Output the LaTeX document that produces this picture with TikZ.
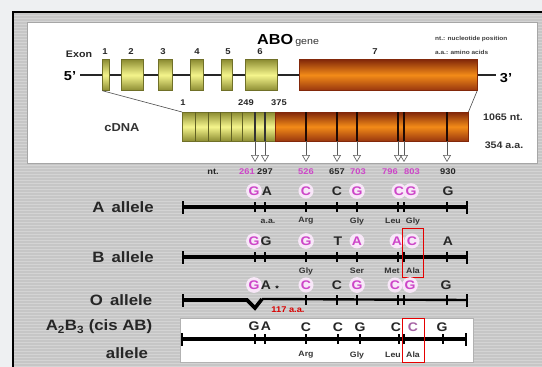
\documentclass[tikz,border=0pt]{standalone}
\usepackage{fontspec}
\setmainfont{Liberation Sans}[FakeStretch=1.12]
\usetikzlibrary{arrows.meta}
\definecolor{mag}{RGB}{205,70,200}
\definecolor{bgout}{RGB}{238,240,242}
\definecolor{graybg}{RGB}{198,198,198}
\definecolor{stripec}{RGB}{212,212,212}
\definecolor{olive}{RGB}{140,140,50}
\definecolor{yel}{RGB}{245,245,140}
\definecolor{brn}{RGB}{130,40,10}
\definecolor{org}{RGB}{240,110,30}
\tikzset{
 lbl/.style={font=\fontsize{15}{17}\selectfont\bfseries, text=black!85, inner sep=0},
 nuc/.style={font=\fontsize{12.5}{13}\selectfont\bfseries, inner sep=0, text=black!85},
 mg/.style={text=mag, circle, fill=mag!13, inner sep=0.6pt},
 aa/.style={font=\fontsize{7.8}{9}\selectfont\bfseries, inner sep=0, text=black!80},
 num/.style={font=\fontsize{8.3}{9}\selectfont\bfseries, inner sep=0, text=black!85},
 mgn/.style={text=mag},
 tick/.style={fill=black, inner sep=0, minimum width=1.8pt, minimum height=10pt},
 endtick/.style={fill=black, inner sep=0, minimum width=2.2pt, minimum height=13pt},
 allele/.style={line width=3.6pt},
 redbox/.style={draw=red!90!black, line width=1pt},
 snp/.style={draw=gray!70!black, line width=0.6pt, -{Triangle[open,width=8pt,length=7pt]}},
 exonbox/.style={draw=olive!80!black, line width=0.4pt, inner sep=0, minimum height=31pt, top color=olive, bottom color=olive, middle color=yel},
 exon7/.style={draw=brn, line width=0.4pt, inner sep=0, minimum height=31pt, top color=brn, bottom color=brn!80!org, middle color=org!80!yellow},
 enum/.style={font=\fontsize{8.5}{9}\selectfont\bfseries, inner sep=0, text=black!85},
}
\begin{document}
\begin{tikzpicture}[x=1pt,y=-1pt]
\useasboundingbox (0,0) rectangle (542,367);
\fill[bgout] (0,0) rectangle (542,367);
\fill[graybg] (13,12) rectangle (542,367);
\foreach \y in {15,18,...,366} \draw[stripec, line width=0.5pt] (14,\y) -- (542,\y);
\draw[line width=2pt] (13,367) -- (13,12) -- (542,12);
% white panel
\draw[fill=white, draw=gray!70, line width=1pt] (27,22) rectangle (537,163);

% gene
\node[font=\fontsize{14.5}{15}\selectfont\bfseries, anchor=base west, inner sep=0] (abo) at (257,44) {ABO};
\node[font=\fontsize{9.5}{10}\selectfont, anchor=base west, inner sep=0, text=black!80] (gene) at (abo.base east) {\,gene};
\node[font=\fontsize{5.8}{7}\selectfont\bfseries, anchor=west, inner sep=0, text=black!75] (n1) at (435,39) {nt.: nucleotide position};
\node[font=\fontsize{5.8}{7}\selectfont\bfseries, anchor=west, inner sep=0, text=black!75] (n2) at (435,52) {a.a.: amino acids};

\node[font=\fontsize{9.5}{10}\selectfont\bfseries, inner sep=0, text=black!85] (exon) at (79,54) {Exon};
\node[font=\fontsize{13}{14}\selectfont\bfseries, inner sep=0] (p5) at (70,76) {5'};
\node[font=\fontsize{13}{14}\selectfont\bfseries, inner sep=0] (p3) at (506,78) {3'};
\coordinate (g5) at (80,75);
\coordinate (g3) at (496,75);
\draw[line width=1.6pt, black!85] (g5) -- (g3);

\node[exonbox, minimum width=7pt] (e1) at (106,75) {};
\node[exonbox, minimum width=22pt] (e2) at (132,75) {};
\node[exonbox, minimum width=14pt] (e3) at (165,75) {};
\node[exonbox, minimum width=13pt] (e4) at (197,75) {};
\node[exonbox, minimum width=11pt] (e5) at (227,75) {};
\node[exonbox, minimum width=32pt] (e6) at (261,75) {};
\node[exon7, minimum width=178pt] (e7) at (388,75) {};
\foreach \n/\x in {1/105,2/131,3/163,4/197,5/228,6/260,7/375}
  \node[enum] (en\n) at (\x,52) {\n};

% cDNA
\node[exonbox, minimum width=93pt, minimum height=29pt, anchor=north west] (cy) at (182,112) {};
\node[exon7, minimum width=193pt, minimum height=29pt, anchor=north west] (co) at (275,112) {};
\foreach \x in {195,208,220,231,242}
  \draw[olive!70!black, line width=0.8pt] (\x,112) -- (\x,141);
\foreach \x in {255,265}
  \draw[black!80, line width=1.3pt] (\x,112) -- (\x,141);
\foreach \x in {306,337,357,398,404,447}
  \draw[black!75!brn, line width=1.3pt] (\x,112) -- (\x,141);
\draw[gray!60!black, line width=0.6pt] (e1.south west) -- (cy.north west);
\draw[gray!60!black, line width=0.6pt] (e7.south east) -- (co.north east);
\node[num] (c1) at (183,103) {1};
\node[num] (c249) at (246,103) {249};
\node[num] (c375) at (279,103) {375};
\node[font=\fontsize{11.5}{12}\selectfont\bfseries, inner sep=0, text=black!80] (cdna) at (122,128) {cDNA};
\node[font=\fontsize{9.5}{10}\selectfont\bfseries, inner sep=0, text=black!80] (len1) at (503,117) {1065 nt.};
\node[font=\fontsize{9.5}{10}\selectfont\bfseries, inner sep=0, text=black!80] (len2) at (504,145) {354 a.a.};

% SNP arrows
\foreach \i/\x in {1/255,2/265,3/306,4/337,5/357,6/398,7/404,8/447}{
  \coordinate (st\i) at (\x,141);
  \coordinate (sb\i) at (\x,162);
  \draw[snp] (st\i) -- (sb\i);
}

% numbers
\node[num] (ntl) at (213,172) {nt.};
\node[num, mgn] (m261) at (247,172) {261};
\node[num] (m297) at (265,172) {297};
\node[num, mgn] (m526) at (306,172) {526};
\node[num] (m657) at (337,172) {657};
\node[num, mgn] (m703) at (358,172) {703};
\node[num, mgn] (m796) at (390,172) {796};
\node[num, mgn] (m803) at (412,172) {803};
\node[num] (m930) at (448,172) {930};

% A allele
\node[lbl] (la) at (123,207) {A\, allele};
\coordinate (aL) at (183,207); \coordinate (aR) at (467,207);
\draw[allele] (aL) -- (aR);
\node[endtick] at (aL) {}; \node[endtick] at (aR) {};
\foreach \x in {255,265,306,337,357,398,404,447} \node[tick] at (\x,207) {};
\node[nuc,mg] (a1) at (254,191) {G};
\node[nuc] (a2) at (267,191) {A};
\node[nuc,mg] (a3) at (306,191) {C};
\node[nuc] (a4) at (337,191) {C};
\node[nuc,mg] (a5) at (357,191) {G};
\node[nuc,mg] (a6) at (399,191) {C};
\node[nuc,mg] (a7) at (411,191) {G};
\node[nuc] (a8) at (448,191) {G};
\node[aa] (aa0) at (268,221) {a.a.};
\node[aa] (aa1) at (306,221) {Arg};
\node[aa] (aa2) at (357,221) {Gly};
\node[aa] (aa3) at (393,221) {Leu};
\node[aa] (aa4) at (413,221) {Gly};

% B allele
\node[lbl] (lb) at (123,257) {B\, allele};
\coordinate (bL) at (183,257); \coordinate (bR) at (467,257);
\draw[allele] (bL) -- (bR);
\node[endtick] at (bL) {}; \node[endtick] at (bR) {};
\foreach \x in {255,265,306,337,357,398,404,447} \node[tick] at (\x,257) {};
\node[nuc,mg] (b1) at (254,241) {G};
\node[nuc] (b2) at (266,241) {G};
\node[nuc,mg] (b3) at (306,241) {G};
\node[nuc] (b4) at (338,241) {T};
\node[nuc,mg] (b5) at (357,241) {A};
\node[nuc,mg] (b6) at (397,241) {A};
\node[nuc,mg] (b7) at (412,241) {C};
\node[nuc] (b8) at (448,241) {A};
\node[aa] (ba1) at (306,271) {Gly};
\node[aa] (ba2) at (357,271) {Ser};
\node[aa] (ba3) at (392,271) {Met};
\node[aa] (ba4) at (413,271) {Ala};
\draw[redbox] (402,228) rectangle (423,277);

% O allele
\node[lbl] (lo) at (121,300) {O\, allele};
\coordinate (oL) at (183,300); \coordinate (ov1) at (247,300); \coordinate (ov2) at (255,308);
\coordinate (ov3) at (262,299); \coordinate (oR) at (467,300);
\draw[allele, line join=miter] (oL) -- (ov1) -- (ov2) -- (ov3);
\draw[line width=2.4pt] (ov3) -- (oR);
\node[endtick] at (oL) {}; \node[endtick] at (oR) {};
\foreach \x in {306,337,357,398,404,447} \node[tick] at (\x,300) {};
\node[nuc,mg] (o1) at (254,285) {G};
\node[nuc] (o2) at (266,285) {A};
\node[font=\fontsize{8}{8}\selectfont\bfseries, inner sep=0] (o2s) at (277,289) {*};
\node[nuc,mg] (o3) at (306,285) {C};
\node[nuc] (o4) at (337,285) {C};
\node[nuc,mg] (o5) at (357,285) {G};
\node[nuc,mg] (o6) at (395,285) {C};
\node[nuc,mg] (o7) at (410,285) {G};
\node[nuc] (o8) at (446,285) {G};
\node[font=\fontsize{8.3}{9}\selectfont\bfseries, inner sep=0, text=red!85!black] (o117) at (288,310) {117 a.a.};

% A2B3 allele
\draw[fill=white, draw=gray!60, line width=0.5pt] (180,318) rectangle (473,362);
\node[lbl] (lab1) at (99,327) {A\textsubscript{2}B\textsubscript{3} (cis AB)};
\node[lbl] (lab2) at (127,353) {allele};
\coordinate (cL) at (182,339); \coordinate (cR) at (466,339);
\draw[allele] (cL) -- (cR);
\node[endtick] at (cL) {}; \node[endtick] at (cR) {};
\foreach \x in {255,265,306,338,360,399,404,443} \node[tick] at (\x,339) {};
\node[nuc] (c1n) at (254,326) {G};
\node[nuc] (c2n) at (266,326) {A};
\node[nuc] (c3n) at (306,327) {C};
\node[nuc] (c4n) at (338,327) {C};
\node[nuc] (c5n) at (360,327) {G};
\node[nuc] (c6n) at (396,327) {C};
\node[nuc, text=mag!50!gray] (c7n) at (413,327) {C};
\node[nuc] (c8n) at (442,327) {G};
\node[aa] (ca1) at (306,355) {Arg};
\node[aa] (ca2) at (357,355) {Gly};
\node[aa] (ca3) at (393,355) {Leu};
\node[aa] (ca4) at (413,355) {Ala};
\draw[redbox] (402,318) rectangle (424,362);
\end{tikzpicture}
\end{document}
